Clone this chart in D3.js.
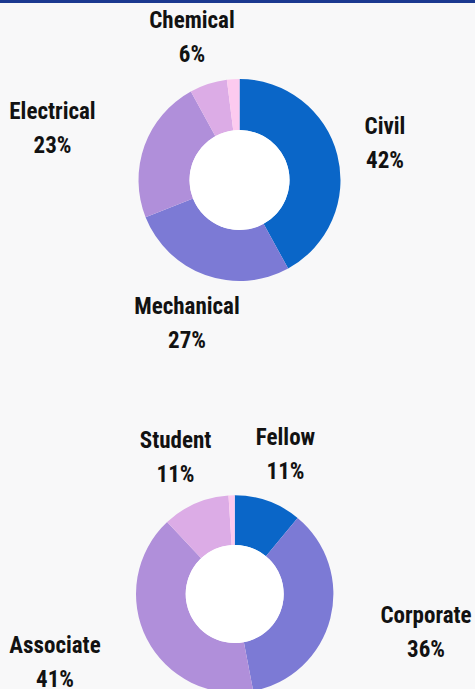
<!DOCTYPE html>
<html lang="en">
<head>
<meta charset="UTF-8" />
<title>Members by discipline and grade</title>
<script src="https://cdn.jsdelivr.net/npm/d3@7"></script>
<style>
	body { margin: 0; background: #f8f8f9; }
	text { font-family: "Liberation Sans Narrow", "Roboto Condensed", Roboto, sans-serif; font-weight: bold; fill: #121212; }
</style>
</head>
<body>
<svg id="vis" width="475" height="689"></svg>
<script>
	// discipline split (top donut)
	const disciplineLabels = ["Civil", "Mechanical", "Electrical", "Chemical", "Other"];
	const disciplineValues = [42, 27, 23, 6, 2];

	// membership grade split (bottom donut)
	const gradeLabels = ["Fellow", "Corporate", "Associate", "Student", "Other"];
	const gradeValues = [11, 36, 41, 11, 1];

	const sliceColors = ["#0a66c8", "#7c7ad5", "#b08fda", "#dcace6", "#fccaef"];

	let svg = d3.select("#vis");

	// fond + bande du haut
	svg.append("rect").attr("width", 475).attr("height", 689).attr("fill", "#f8f8f9");
	svg.append("rect").attr("width", 475).attr("height", 3).attr("fill", "#1b3990");

	function donut(labels, values, cx, cy, rOut, rIn, labelPos) {
		let g = svg.append("g").attr("transform", "translate(" + cx + "," + cy + ")");
		let pie = d3.pie().sort(null);
		let arc = d3.arc().innerRadius(rIn).outerRadius(rOut);
		let color = d3.scaleOrdinal().domain(labels).range(sliceColors);

		let arcs = pie(values);
		g.selectAll("path")
			.data(arcs)
			.join("path")
			.attr("d", arc)
			.attr("fill", (d, i) => color(labels[i]));

		// hole
		g.append("circle").attr("r", rIn).attr("fill", "#ffffff");

		// labels (the tiny last slice has none)
		for (let i = 0; i < labelPos.length; i++) {
			let p = labelPos[i];
			let t = svg.append("text")
				.attr("x", p[0])
				.attr("y", p[1])
				.attr("text-anchor", "middle")
				.attr("font-size", 23);
			t.append("tspan").attr("x", p[0]).text(labels[i]);
			t.append("tspan").attr("x", p[0]).attr("dy", 34).text(values[i] + "%");
		}
	}

	// label centers / first baseline
	donut(disciplineLabels, disciplineValues, 239.5, 180, 101, 50,
		[[385, 134], [187, 314], [52.5, 119], [192, 28]]);
	donut(gradeLabels, gradeValues, 234.7, 594, 98.7, 49,
		[[285.5, 445], [426, 623], [55, 653], [175.5, 448]]);
</script>
</body>
</html>
